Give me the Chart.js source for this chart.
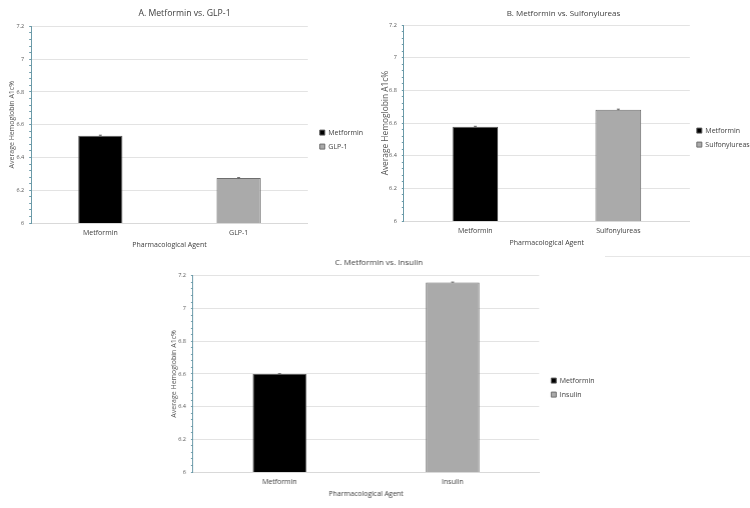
<!DOCTYPE html>
<html lang="en">
  <head>
    <meta charset="UTF-8" />
    <title>Average Hemoglobin A1c% by Pharmacological Agent</title>
    <script src="https://cdn.jsdelivr.net/npm/chart.js"></script>
    <style>
      body {
        margin: 0;
        width: 750px;
        height: 508px;
        background: #fff;
        position: relative;
        overflow: hidden;
      }
      .panel {
        position: absolute;
      }
      .edge {
        position: absolute;
        left: 605px;
        top: 256px;
        width: 145px;
        border-top: 1px solid #e6e6e6;
      }
    </style>
  </head>
  <body>
    <div class="panel" style="left: -4.5px; top: 0; width: 377px; height: 258px">
      <canvas id="chartA"></canvas>
    </div>
    <div class="panel" style="left: 373.5px; top: 0; width: 379px; height: 256px">
      <canvas id="chartB"></canvas>
    </div>
    <div class="panel" style="left: 153px; top: 250px; width: 450.5px; height: 258px">
      <canvas id="chartC"></canvas>
    </div>
    <div class="edge"></div>

    <script>
      // values (average HbA1c %)
      const titles = [
        "A. Metformin vs. GLP-1",
        "B. Metformin vs. Sulfonylureas",
        "C. Metformin vs. Insulin",
      ];
      const agentsA = ["Metformin", "GLP-1"];
      const agentsB = ["Metformin", "Sulfonylureas"];
      const agentsC = ["Metformin", "Insulin"];
      const valuesA = [6.533, 6.274];
      const valuesB = [6.577, 6.682];
      const valuesC = [6.6, 7.16];
      const errorsA = [0.003, 0.003];
      const errorsB = [0.003, 0.003];
      const errorsC = [0.002, 0.002];
      const yTicks = [6, 6.2, 6.4, 6.6, 6.8, 7, 7.2];

      const FONT = "'Open Sans', 'Liberation Sans', sans-serif";
      const fills = ["#000000", "#aaaaaa"];
      const borders = ["#5a5a5a", "#6e6e6e"];

      function isMajor(v) {
        return yTicks.some((t) => Math.abs(t - v) < 1e-6);
      }

      // tiny error whiskers on top of each bar
      const errorBars = {
        id: "errorBars",
        afterDatasetsDraw(chart, args, opts) {
          const ctx = chart.ctx;
          const y = chart.scales.y;
          ctx.save();
          ctx.strokeStyle = "#666";
          ctx.lineWidth = 1;
          chart.data.datasets.forEach((ds, di) => {
            const meta = chart.getDatasetMeta(di);
            meta.data.forEach((bar, i) => {
              const v = ds.data[i];
              if (v == null) return;
              const e = opts.errors[i];
              const top = y.getPixelForValue(v + e);
              const bot = y.getPixelForValue(v - e);
              ctx.beginPath();
              ctx.moveTo(bar.x, top);
              ctx.lineTo(bar.x, bot);
              ctx.moveTo(bar.x - 1.5, top);
              ctx.lineTo(bar.x + 1.5, top);
              ctx.stroke();
            });
          });
          ctx.restore();
        },
      };

      function makeChart(id, title, agents, values, errors, cfg) {
        const datasets = agents.map((name, i) => ({
          label: name,
          data: agents.map((_, j) => (j === i ? values[i] : null)),
          backgroundColor: fills[i],
          borderColor: borders[i],
          borderWidth: 1,
          barPercentage: cfg.bar,
          categoryPercentage: 1,
        }));

        return new Chart(document.getElementById(id), {
          type: "bar",
          data: { labels: agents, datasets: datasets },
          plugins: [errorBars],
          options: {
            responsive: true,
            maintainAspectRatio: false,
            animation: false,
            skipNull: true,
            layout: { padding: { left: 0, right: 0, top: 0, bottom: cfg.bottom } },
            plugins: {
              errorBars: { errors: errors },
              tooltip: { enabled: false },
              title: {
                display: true,
                text: title,
                color: "#404040",
                font: { family: FONT, size: cfg.titleSize, weight: "normal" },
                padding: cfg.titlePad,
              },
              legend: {
                position: "right",
                // empty legend title only pushes the entries down a little
                title: {
                  display: true,
                  text: "",
                  font: { size: 1 },
                  padding: { top: cfg.legendDrop, bottom: 0 },
                },
                labels: {
                  color: "#404040",
                  font: { family: FONT, size: 7 },
                  boxWidth: 5,
                  boxHeight: 5,
                  padding: 7,
                },
              },
            },
            scales: {
              x: {
                afterFit: (scale) => {
                  scale.height = 27;
                },
                grid: { display: false, drawTicks: false },
                border: { color: "#d9d9d9" },
                ticks: {
                  color: "#404040",
                  font: { family: FONT, size: 7 },
                  padding: 6,
                },
                title: {
                  display: true,
                  text: "Pharmacological Agent",
                  color: "#404040",
                  font: { family: FONT, size: 7 },
                  padding: { top: 0, bottom: 1 },
                },
              },
              y: {
                min: 6,
                max: 7.2,
                afterFit: (scale) => {
                  scale.width = cfg.yWidth;
                },
                afterBuildTicks: (scale) => {
                  const list = [];
                  for (let k = 0; k <= 30; k++) list.push({ value: 6 + k * 0.04 });
                  scale.ticks = list;
                },
                border: { color: "#6b9aa8", width: 1 },
                grid: {
                  color: (c) => (c.tick && isMajor(c.tick.value) ? "#e3e3e3" : "rgba(0,0,0,0)"),
                  tickColor: "#6b9aa8",
                  tickLength: 2,
                  drawTicks: true,
                },
                ticks: {
                  autoSkip: false,
                  color: "#555",
                  font: { family: FONT, size: 5.5 },
                  padding: 5,
                  callback: (v) => (isMajor(v) ? String(Math.round(v * 10) / 10) : ""),
                },
                title: {
                  display: true,
                  text: "Average Hemoglobin A1c%",
                  color: "#555",
                  font: { family: FONT, size: cfg.yTitle },
                  padding: { top: cfg.yTitlePad, bottom: 0 },
                },
              },
              // empty spacer between plot and legend
              gap: {
                type: "linear",
                position: "right",
                afterFit: (scale) => {
                  scale.width = cfg.gap;
                },
                grid: { display: false, drawTicks: false },
                border: { display: false },
                ticks: { display: false },
              },
            },
          },
        });
      }

      makeChart("chartA", titles[0], agentsA, valuesA, errorsA, {
        bar: 0.32,
        yWidth: 35.2,
        yTitle: 7,
        yTitlePad: 11.3,
        gap: 5,
        legendDrop: 28,
        titleSize: 8.7,
        titlePad: { top: 8, bottom: 8 },
        bottom: 8,
      });
      makeChart("chartB", titles[1], agentsB, valuesB, errorsB, {
        bar: 0.32,
        yWidth: 29.8,
        yTitle: 8.4,
        yTitlePad: 6.5,
        gap: 0,
        legendDrop: 26,
        titleSize: 8,
        titlePad: { top: 9, bottom: 6.5 },
        bottom: 8,
      });
      makeChart("chartC", titles[2], agentsC, valuesC, errorsC, {
        bar: 0.31,
        yWidth: 39.9,
        yTitle: 7,
        yTitlePad: 16.7,
        gap: 5,
        legendDrop: 25,
        titleSize: 8,
        titlePad: { top: 8, bottom: 8.3 },
        bottom: 9,
      });
    </script>
  </body>
</html>
